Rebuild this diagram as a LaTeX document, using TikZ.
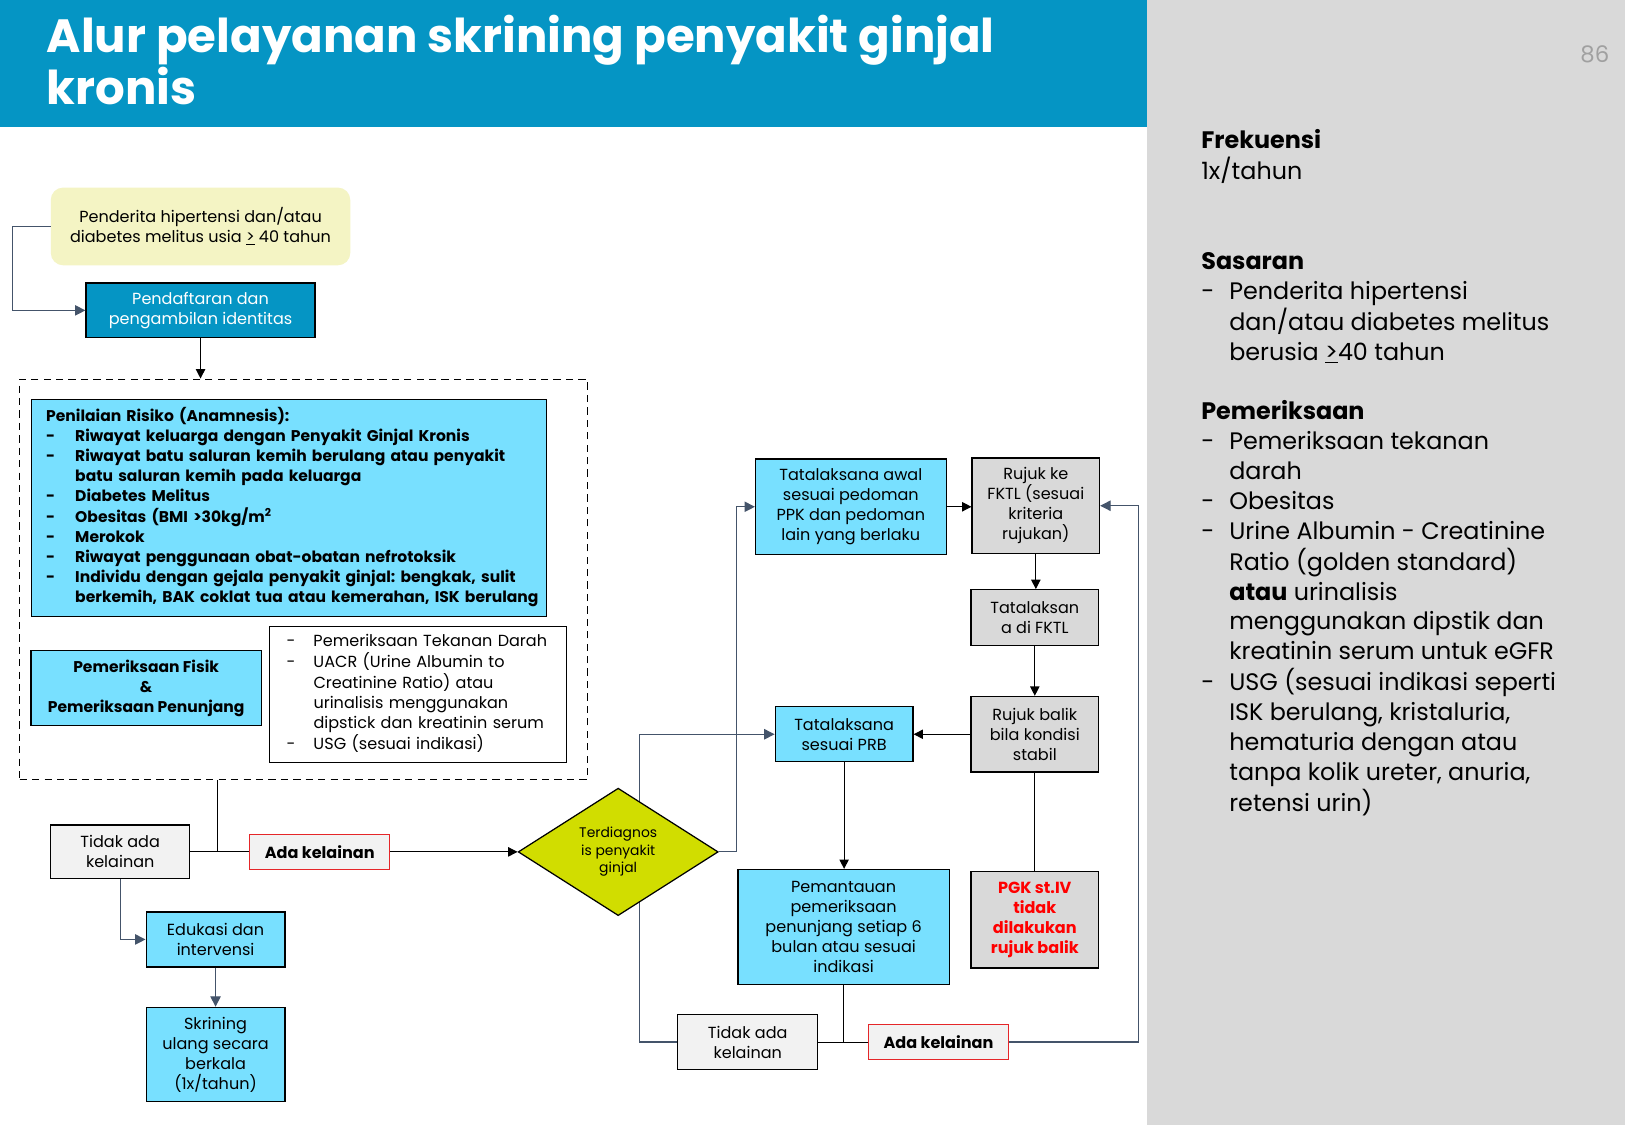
\documentclass[tikz,border=0pt]{standalone}
\usepackage{fontspec}
\setmainfont{Poppins}
\usepackage{tikz}
\usetikzlibrary{arrows.meta,calc,positioning,shapes.geometric}
\frenchspacing

\definecolor{headblue}{HTML}{0595C4}
\definecolor{boxcyan}{HTML}{78E0FF}
\definecolor{startyellow}{HTML}{F4F4C4}
\definecolor{diagyellow}{HTML}{D1DD00}
\definecolor{panelgray}{HTML}{D9D9D9}
\definecolor{palegray}{HTML}{F2F2F2}
\definecolor{linegray}{HTML}{44546A}
\definecolor{alertred}{HTML}{E52629}
\definecolor{pagegray}{HTML}{A0A0A0}

\newcommand{\boxfont}{\fontsize{15.5}{19.3}\selectfont}
\newcommand{\listfont}{\fontsize{15}{19.3}\selectfont}
\newcommand{\diagfont}{\fontsize{13.4}{17}\selectfont}
\newcommand{\panelfont}{\fontsize{23}{28.75}\selectfont}
\newcommand{\titlefont}{\fontsize{45}{51}\selectfont\bfseries}

\begin{document}
\begin{tikzpicture}[x=1pt,y=-1pt,
  box/.style={draw,line width=1.2pt,font=\boxfont,align=center,inner sep=2pt},
  cyanbox/.style={box,fill=boxcyan},
  graybox/.style={box,fill=panelgray},
  nobox/.style={box,fill=palegray},
  redbox/.style={box,draw=alertred,fill=palegray,font=\boxfont\bfseries},
  plain/.style={line width=1pt},
  bline/.style={plain,-{Triangle[length=9pt,width=9pt]}},
  gline/.style={line width=1.1pt,draw=linegray,-{Triangle[length=10pt,width=10pt]}}]
  \useasboundingbox (0,0) rectangle (1568,1086);
  \fill[white] (0,0) rectangle (1107,1086);
  \fill[panelgray] (1107,0) rectangle (1568,1086);
  \fill[headblue] (0,0) rectangle (1107,123);
  \node[anchor=north west,inner sep=0,text=white,font=\titlefont,align=left] (title) at (45,14) {Alur pelayanan skrining penyakit ginjal\\kronis};
  \node[anchor=base east,inner sep=0,text=pagegray,font=\fontsize{22}{26}\selectfont] (pagenum) at (1553,60) {86};
  \node[anchor=north west,inner sep=0,font=\panelfont] (panel) at (1159,123) {%
    \begin{tabular}{@{}p{27pt}@{}l@{}}
      \multicolumn{2}{@{}l@{}}{\bfseries Frekuensi}\\
      \multicolumn{2}{@{}l@{}}{1x/tahun}\\
      \\ \\
      \multicolumn{2}{@{}l@{}}{\bfseries Sasaran}\\
      - & Penderita hipertensi\\
        & dan/atau diabetes melitus\\
        & berusia \underline{>}40 tahun\\
      \\
      \multicolumn{2}{@{}l@{}}{\bfseries Pemeriksaan}\\
      - & Pemeriksaan tekanan\\
        & darah\\
      - & Obesitas\\
      - & Urine Albumin - Creatinine\\
        & Ratio (golden standard)\\
        & \textbf{atau} urinalisis\\
        & menggunakan dipstik dan\\
        & kreatinin serum untuk eGFR\\
      - & USG (sesuai indikasi seperti\\
        & ISK berulang, kristaluria,\\
        & hematuria dengan atau\\
        & tanpa kolik ureter, anuria,\\
        & retensi urin)
    \end{tabular}};
  \node[fill=startyellow,rounded corners=12pt,font=\boxfont,align=center,minimum width=289,minimum height=75] (start) at (193.5,218.5) {Penderita hipertensi dan/atau\\diabetes melitus usia \underline{>} 40 tahun};
  \node[box,fill=headblue,text=white,minimum width=221,minimum height=53] (reg) at (193.5,299.5) {Pendaftaran dan\\pengambilan identitas};
  \node[draw,dashed,line width=1.5pt,dash pattern=on 7pt off 5pt,minimum width=548,minimum height=386,inner sep=0] (frame) at (293,559) {};
  \node[cyanbox,anchor=north west,align=left,font=\listfont\bfseries,text width=469pt,minimum height=209,inner xsep=14pt] (risk) at (30,385) {%
    \begin{tabular}{@{}p{28pt}@{}l@{}}
      \multicolumn{2}{@{}l@{}}{Penilaian Risiko (Anamnesis):}\\
      - & Riwayat keluarga dengan Penyakit Ginjal Kronis\\
      - & Riwayat batu saluran kemih berulang atau penyakit\\
        & batu saluran kemih pada keluarga\\
      - & Diabetes Melitus\\
      - & Obesitas (BMI >30kg/m\textsuperscript{2}\\
      - & Merokok\\
      - & Riwayat penggunaan obat-obatan nefrotoksik\\
      - & Individu dengan gejala penyakit ginjal: bengkak, sulit\\
        & berkemih, BAK coklat tua atau kemerahan, ISK berulang
    \end{tabular}};
  \node[cyanbox,font=\listfont\bfseries,minimum width=222,minimum height=72] (fisik) at (141,664) {Pemeriksaan Fisik\\\&\\Pemeriksaan Penunjang};
  \node[box,line width=1pt,fill=white,anchor=north west,align=left,text width=254pt,minimum height=131,inner xsep=16pt] (penunjang) at (260,604) {%
    \begin{tabular}{@{}p{26pt}@{}l@{}}
      - & Pemeriksaan Tekanan Darah\\
      - & UACR (Urine Albumin to\\
        & Creatinine Ratio) atau\\
        & urinalisis menggunakan\\
        & dipstick dan kreatinin serum\\
      - & USG (sesuai indikasi)
    \end{tabular}};
  \node[nobox,minimum width=134,minimum height=52] (normal1) at (116,822) {Tidak ada\\kelainan};
  \node[redbox,minimum width=135,minimum height=34] (abnormal1) at (308.5,822) {Ada kelainan};
  \node[cyanbox,minimum width=134,minimum height=53] (edukasi) at (208,906.5) {Edukasi dan\\intervensi};
  \node[cyanbox,minimum width=134,minimum height=91] (ulang) at (208,1017.5) {Skrining\\ulang secara\\berkala\\(1x/tahun)};
  \node[cyanbox,minimum width=184,minimum height=92] (awal) at (821,489) {Tatalaksana awal\\sesuai pedoman\\PPK dan pedoman\\lain yang berlaku};
  \node[graybox,minimum width=123,minimum height=92] (rujuk) at (999.5,488) {Rujuk ke\\FKTL (sesuai\\kriteria\\rujukan)};
  \node[graybox,minimum width=123,minimum height=54] (fktl) at (998.5,596) {Tatalaksan\\a di FKTL};
  \node[graybox,minimum width=123,minimum height=73] (balik) at (998.5,708.5) {Rujuk balik\\bila kondisi\\stabil};
  \node[cyanbox,minimum width=133,minimum height=53] (prb) at (814.5,708.5) {Tatalaksana\\sesuai PRB};
  \node[cyanbox,minimum width=204,minimum height=111] (pantau) at (814,894.5) {Pemantauan\\pemeriksaan\\penunjang setiap 6\\bulan atau sesuai\\indikasi};
  \node[graybox,text=red,font=\boxfont\bfseries,minimum width=123,minimum height=93] (pgk) at (998.5,887.5) {PGK st.IV\\tidak\\dilakukan\\rujuk balik};
  \node[nobox,minimum width=135,minimum height=53] (normal2) at (721.5,1005.5) {Tidak ada\\kelainan};
  \node[redbox,minimum width=135,minimum height=34] (abnormal2) at (905.5,1005.5) {Ada kelainan};
  \draw[gline] (normal2.west) -- ++(-36,0) |- (prb.west);
  \node[diamond,draw,line width=1.2pt,fill=diagyellow,inner sep=0,minimum width=193,minimum height=116,font=\diagfont,align=center] (diag) at (596.5,822) {Terdiagnos\\is penyakit\\ginjal};
  \coordinate (join1) at (210,822);
  \coordinate (join2) at (pantau.south |- normal2.east);
  \draw[gline] (start.west) -- ++(-37,0) |- (reg.west);
  \draw[bline] (reg.south) -- (reg.south |- frame.north);
  \draw[plain] (frame.south -| join1) -- (join1);
  \draw[plain] (normal1.east) -- (abnormal1.west);
  \draw[bline] (abnormal1.east) -- (diag.west);
  \draw[gline] (normal1.south) |- (edukasi.west);
  \draw[gline] (edukasi.south) -- (ulang.north);
  \draw[gline] (diag.east) -- ++(17,0) |- (awal.west);
  \draw[bline] (awal.east) -- (awal.east -| rujuk.west);
  \draw[bline] (rujuk.south) -- (rujuk.south |- fktl.north);
  \draw[bline] (fktl.south) -- (balik.north);
  \draw[bline] (balik.west) -- (prb.east);
  \draw[bline] (prb.south) -- (prb.south |- pantau.north);
  \draw[plain] (balik.south) -- (pgk.north);
  \draw[plain] (pantau.south) -- (join2);
  \draw[plain] (normal2.east) -- (abnormal2.west);
  \draw[gline] (abnormal2.east) -- ++(125,0) |- (rujuk.east);
\end{tikzpicture}
\end{document}
